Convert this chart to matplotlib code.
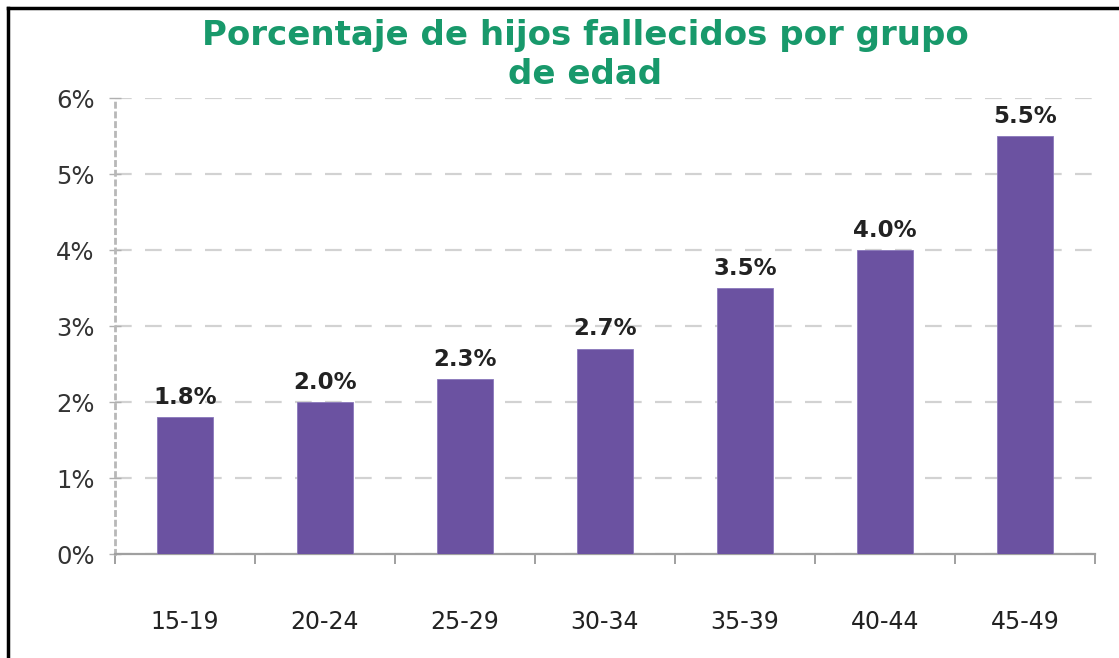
import matplotlib
matplotlib.use("Agg")
import matplotlib.pyplot as plt
from matplotlib.lines import Line2D
import numpy as np

categories = ["15-19", "20-24", "25-29", "30-34", "35-39", "40-44", "45-49"]
values = [1.8, 2.0, 2.3, 2.7, 3.5, 4.0, 5.5]
value_labels = ["1.8%", "2.0%", "2.3%", "2.7%", "3.5%", "4.0%", "5.5%"]
yticks = [0, 1, 2, 3, 4, 5, 6]
ytick_labels = ["0%", "1%", "2%", "3%", "4%", "5%", "6%"]
title = "Porcentaje de hijos fallecidos por grupo\nde edad"

plt.rcParams['font.family'] = ['DejaVu Sans']

W, H = 1119, 658
fig = plt.figure(figsize=(W / 100, H / 100), dpi=100)
fig.patch.set_facecolor("white")

x0, x1 = 115, 1095
y0, y6 = 554, 98
ax = fig.add_axes([x0 / W, 1 - y0 / H, (x1 - x0) / W, (y0 - y6) / H])

x = np.arange(len(categories))
ax.bar(x, values, width=0.4, color="#6b52a1", edgecolor="#8a78bb", linewidth=0.6, zorder=3)
ax.set_xlim(-0.5, len(categories) - 0.5)
ax.set_ylim(0, 6)

for xi, v, lab in zip(x, values, value_labels):
    ax.annotate(lab, (xi, v), xytext=(0, 6), textcoords="offset points",
                ha="center", va="bottom", fontsize=16.5, fontweight="bold", color="#222222")

ax.set_yticks(yticks)
ax.set_yticklabels(ytick_labels, fontsize=17.5, color="#333333")
ax.yaxis.grid(True, linestyle=(0, (7.5, 6)), color="#d2d2d2", linewidth=1.6, zorder=0)
ax.tick_params(axis="y", length=9, width=1, color="#b0b0b0", direction="inout", pad=10)

ax.set_xticks(np.arange(-0.5, len(categories) + 0.5, 1))
ax.set_xticklabels([])
ax.set_xticks(x, minor=True)
ax.set_xticklabels(categories, minor=True, fontsize=17, color="#222222")
ax.tick_params(axis="x", which="major", length=7, width=1.4, color="#a0a0a0", direction="out")
ax.tick_params(axis="x", which="minor", length=0, pad=40)

for s in ["top", "right"]:
    ax.spines[s].set_visible(False)
ax.spines["bottom"].set_color("#a0a0a0")
ax.spines["bottom"].set_linewidth(1.6)
ax.spines["left"].set_color("#b8b8b8")
ax.spines["left"].set_linewidth(2)
ax.spines["left"].set_linestyle((0, (1.5, 2)))

fig.text(585 / W, 1 - 55 / H, title, ha="center", va="center", fontsize=24.5,
         fontweight="bold", color="#18996b", linespacing=1.2)

# black frame lines at top and left
fig.add_artist(Line2D([8 / W, 1], [1 - 8 / H, 1 - 8 / H], color="black", linewidth=2.5, transform=fig.transFigure))
fig.add_artist(Line2D([8 / W, 8 / W], [0, 1 - 8 / H], color="black", linewidth=2.5, transform=fig.transFigure))

fig.savefig("out.png", dpi=100, facecolor="white")
